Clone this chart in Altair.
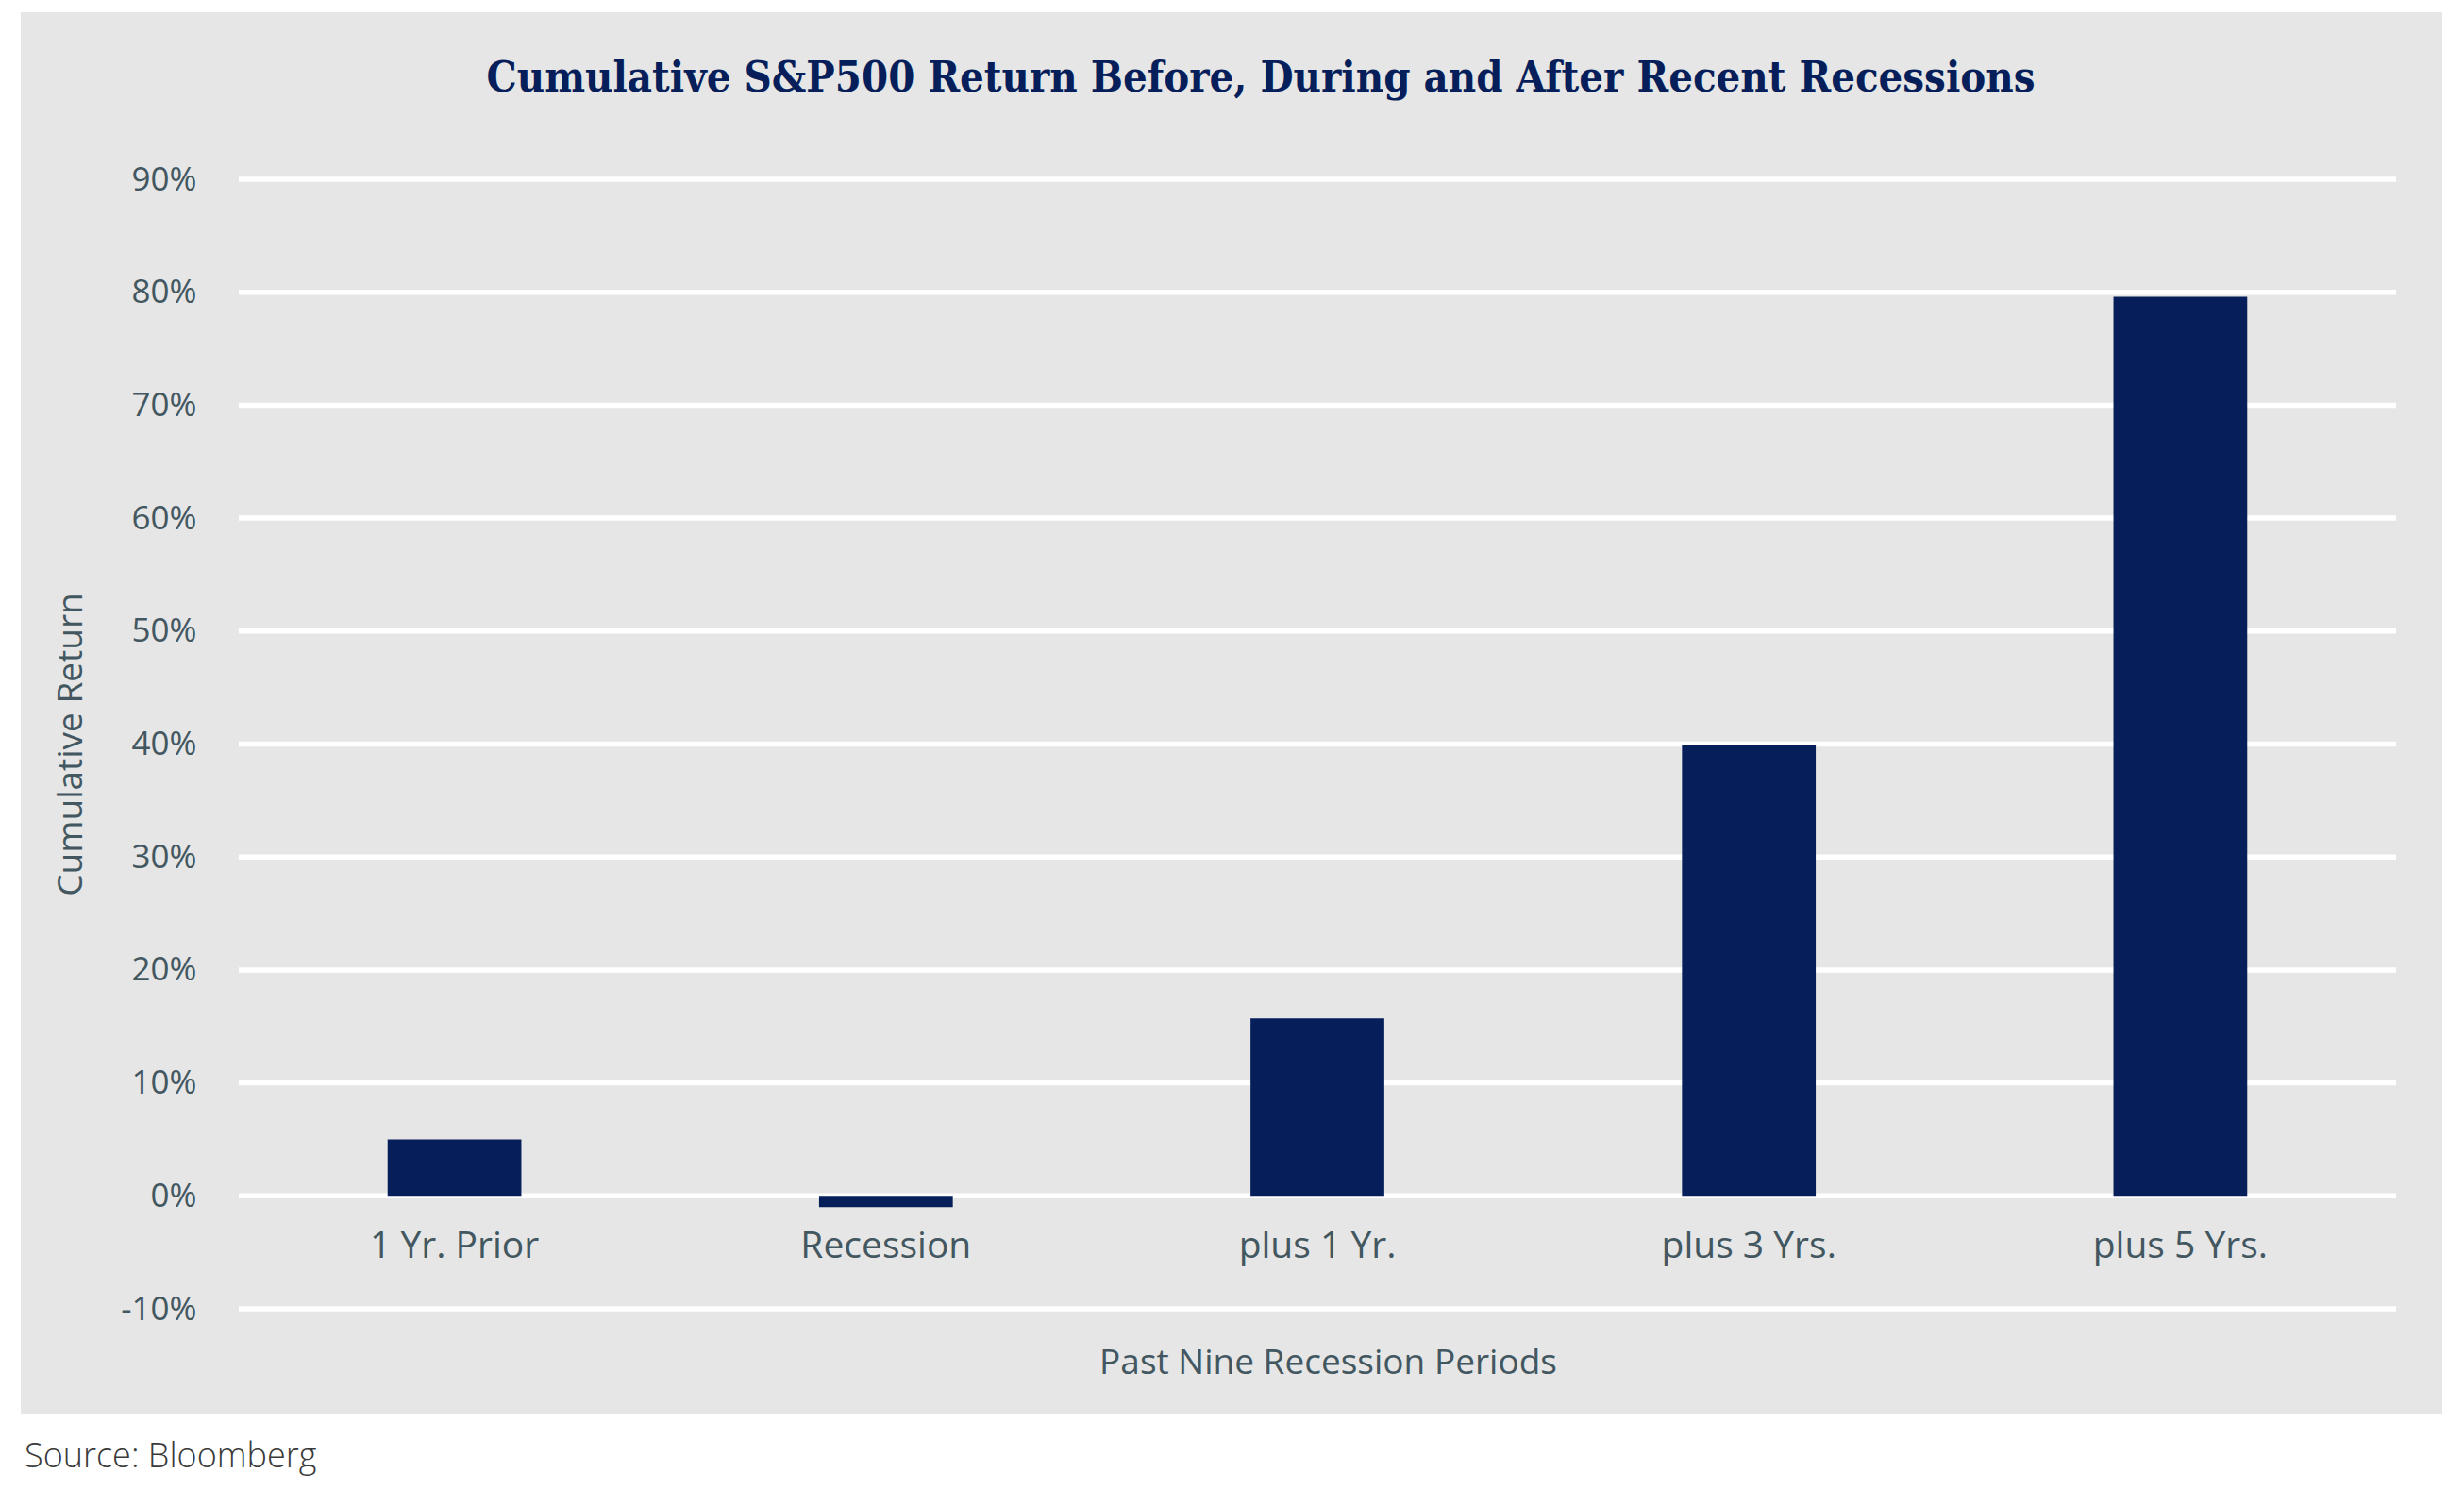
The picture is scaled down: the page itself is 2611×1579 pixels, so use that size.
import altair as alt
import pandas as pd

# ---- data ----
categories = ["1 Yr. Prior", "Recession", "plus 1 Yr.", "plus 3 Yrs.", "plus 5 Yrs."]
returns = [0.050, -0.010, 0.157, 0.399, 0.796]
tick_values = [-0.1, 0.0, 0.1, 0.2, 0.3, 0.4, 0.5, 0.6, 0.7, 0.8, 0.9]

title_text = "Cumulative S&P500 Return Before, During and After Recent Recessions"
source_text = "Source: Bloomberg"
x_title = "Past Nine Recession Periods"
y_title = "Cumulative Return"

# ---- style ----
W, H = 2286, 1197
NAVY = "#061e5a"
LABEL = "#435761"
PANEL = "#e6e6e6"
FONT = "Open Sans"

df = pd.DataFrame({"period": categories, "ret": returns})
grid_df = pd.DataFrame({"tick": tick_values})

x_scale = alt.Scale(domain=categories, paddingInner=0.69, paddingOuter=0.345)
y_scale = alt.Scale(domain=[-0.1, 0.9], nice=False, zero=False)

x_axis = alt.Axis(
    labels=False, ticks=False, domain=False, grid=False,
    title=x_title, titleFont=FONT, titleFontSize=37, titleFontWeight="normal",
    titleColor=LABEL, titleBaseline="alphabetic", titlePadding=68, titleX=1154, zindex=1,
)
y_axis = alt.Axis(
    values=tick_values, format=".0%", grid=False, ticks=False, domain=False,
    labelExpr="replace(datum.label, '\u2212', '-')",
    labelFont=FONT, labelFontSize=35, labelColor=LABEL, labelPadding=45,
    title=y_title, titleFont=FONT, titleFontSize=37, titleFontWeight="normal",
    titleColor=LABEL, titlePadding=33, zindex=1,
)

panel = alt.Chart(pd.DataFrame({"p": [0]})).mark_rect(color=PANEL).encode(
    x=alt.value(-231), x2=alt.value(2335), y=alt.value(-177), y2=alt.value(1308)
)

grid = alt.Chart(grid_df).mark_rule(color="white", strokeWidth=5.5).encode(
    y=alt.Y("tick:Q", scale=y_scale, axis=y_axis, title=y_title)
)

bars = alt.Chart(df).mark_bar(color=NAVY).encode(
    x=alt.X("period:N", scale=x_scale, sort=categories, axis=x_axis, title=x_title),
    y=alt.Y("ret:Q", scale=y_scale, axis=y_axis, title=y_title),
)

cat_labels = alt.Chart(df).mark_text(
    font=FONT, fontSize=39, color=LABEL, baseline="alphabetic", dy=66
).encode(
    x=alt.X("period:N", scale=x_scale, sort=categories, axis=x_axis, title=x_title),
    y=alt.datum(0),
    text="period:N",
)

source = alt.Chart(pd.DataFrame({"t": [source_text]})).mark_text(
    align="left", baseline="alphabetic", font=FONT, fontSize=36, fontWeight=300, color="#3a3a3a"
).encode(x=alt.value(-227), y=alt.value(1365), text="t:N")

chart = alt.layer(panel, grid, bars, cat_labels, source).properties(
    width=W,
    height=H,
    title=alt.TitleParams(
        title_text, font="DejaVu Serif Condensed, DejaVu Serif", fontSize=45, fontWeight="bold",
        color=NAVY, anchor="middle", dx=-60, baseline="alphabetic", offset=-129,
    ),
    autosize=alt.AutoSizeParams(type="none"),
    padding={"left": 245, "top": 182, "right": 60, "bottom": 184},
).configure(background="white").configure_view(stroke=None)

chart.save("out.html", embed_options={"renderer": "svg", "actions": False})
